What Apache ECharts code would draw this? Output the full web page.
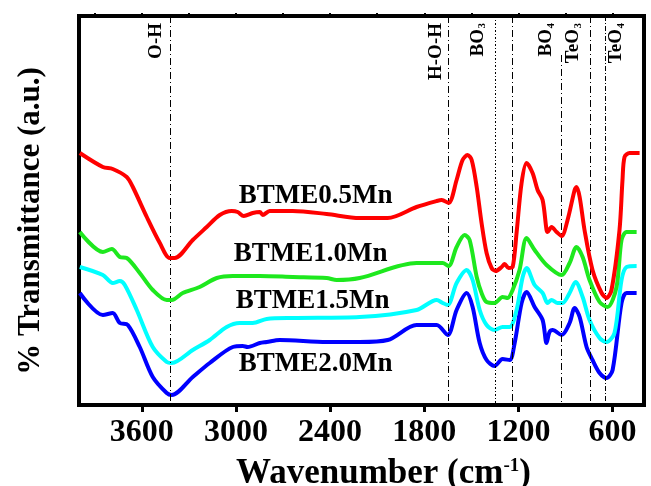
<!DOCTYPE html>
<html>
<head>
<meta charset="utf-8">
<script src="https://cdn.jsdelivr.net/npm/echarts@6/dist/echarts.min.js"></script>
<style>
    html, body { margin: 0; padding: 0; background: #fff; }
    #chart { width: 651px; height: 486px; }
</style>
</head>
<body>
<div id="chart"></div>
<script>
    // FTIR spectra, wavenumber (cm-1) vs transmittance (a.u., offset curves)
    const majorTicks = [3600, 3000, 2400, 1800, 1200, 600];
    const allTicks = [3900, 3600, 3300, 3000, 2700, 2400, 2100, 1800, 1500, 1200, 900, 600];

    const redWn = [3995,3848,3785,3696,3657,3568,3485,3422,3390,3275,3186,3103,3027,2989,2950,2893,2848,2829,2785,2638,2422,2212,2033,1849,1721,1689,1645,1594,1556,1524,1498,1466,1435,1403,1371,1345,1307,1288,1263,1237,1212,1180,1148,1110,1078,1046,1021,1014,989,957,925,887,842,830,810,779,728,670,639,607,556,537,524,492,428];
    const redT = [252,238,236,228,218,188,162,147,147,165,178,190,194,193,189,192,193,190,194,194,191,187,187,198,204,205,202,225,245,250,245,218,182,152,137,134,138,141,137,138,172,222,242,232,215,205,175,173,178,173,169,185,215,218,208,175,135,112,107,115,175,225,248,252,252];

    const greenWn = [3995,3848,3791,3740,3696,3613,3530,3441,3409,3339,3231,3122,3020,2848,2638,2422,2358,2212,1849,1721,1683,1645,1594,1543,1511,1466,1435,1403,1352,1301,1269,1237,1193,1148,1097,1021,925,874,830,791,747,683,632,575,543,511,447];
    const greenT = [173,153,156,148,147,132,115,105,105,112,118,127,129,129,128,127,125,127,142,142,142,139,158,170,165,128,112,103,102,108,107,115,135,167,155,140,130,142,158,148,125,103,98,118,165,173,173];

    const cyanWn = [3995,3848,3785,3740,3708,3632,3530,3441,3409,3275,3167,3059,2976,2893,2804,2638,2212,1849,1721,1683,1651,1594,1530,1492,1447,1403,1352,1301,1256,1212,1173,1148,1097,1046,1014,989,951,919,874,836,791,747,683,639,588,543,511,447];
    const cyanT = [138,130,122,124,120,95,58,43,42,55,65,78,82,82,86,87,88,95,105,102,100,122,135,125,95,80,75,78,78,95,128,137,120,112,102,105,102,102,112,123,108,85,67,63,72,125,138,139];

    const blueWn = [3995,3848,3785,3740,3689,3613,3530,3441,3409,3275,3167,3020,2957,2925,2848,2804,2721,2422,2212,2033,1849,1721,1651,1594,1530,1492,1447,1403,1352,1301,1256,1224,1180,1148,1097,1046,1021,1002,982,925,874,842,810,766,728,683,639,600,543,511,447];
    const blueT = [112,90,92,82,80,58,28,12,10,28,42,58,59,58,62,63,65,63,63,65,80,80,70,95,112,98,62,45,39,46,45,62,102,113,98,85,62,73,75,70,82,97,88,58,45,32,27,35,102,112,112];

    const sampleNames = ['BTME0.5Mn', 'BTME1.0Mn', 'BTME1.5Mn', 'BTME2.0Mn'];
    const sampleLabelWn = [2492, 2524, 2511, 2492];
    const sampleLabelT = [209, 151, 104, 41];

    // band assignment lines
    const bandWn = [3420, 1645, 1350, 1240, 925, 740, 650];
    const bandTop = [389, 389, 389, 389, 350, 389, 389];
    const bandDash = [[7,3,1,3], [7,3,1,3], [2,2,1,2], [7,3,1,3], [7,3,1,3], [7,3,1,3], [5,2,1,2]];
    const bandNames = ['O-H', 'H-O-H', 'BO', 'BO', 'TeO', 'TeO'];
    const bandSubs = ['', '', '3', '4', '3', '4'];
    const bandLabelWn = [3511, 1727, 1460, 1021, 849, 575];

    const font = '"Liberation Serif", "Times New Roman", serif';

    function pairs(xs, ys) {
        return xs.map(function (x, i) { return [x, ys[i]]; });
    }

    function spectrum(name, xs, ys, color, z) {
        return {
            name: name,
            type: 'line',
            data: pairs(xs, ys),
            smooth: 0.3,
            symbol: 'none',
            z: z,
            lineStyle: { width: 4, color: color },
            itemStyle: { color: color }
        };
    }

    const chart = echarts.init(document.getElementById('chart'));

    const option = {
        animation: false,
        backgroundColor: '#fff',
        grid: {
            left: 79, right: 7, top: 16, bottom: 81,
            outerBoundsMode: 'none',
            show: true, borderColor: '#000', borderWidth: 4
        },
        xAxis: [
            {
                type: 'value', position: 'bottom', min: 400, max: 4000, inverse: true,
                axisLine: { show: false },
                splitLine: { show: false },
                axisTick: { customValues: majorTicks, length: 7, lineStyle: { width: 3, color: '#000' } },
                axisLabel: {
                    customValues: majorTicks, margin: 12,
                    formatter: function (v) { return String(v); },
                    fontFamily: font, fontWeight: 'bold', fontSize: 32, color: '#000'
                },
                name: 'Wavenumber (cm{sup|-1})',
                nameLocation: 'middle',
                nameGap: 51,
                nameTextStyle: {
                    fontFamily: font, fontWeight: 'bold', fontSize: 35, color: '#000',
                    padding: [0, 0, 0, 44],
                    rich: { sup: { fontFamily: font, fontWeight: 'bold', fontSize: 19, color: '#000', padding: [0, 0, 15, 0] } }
                }
            },
            {
                type: 'value', position: 'top', min: 400, max: 4000, inverse: true,
                axisLine: { show: false },
                splitLine: { show: false },
                axisTick: { customValues: allTicks, length: 3, lineStyle: { width: 2, color: '#000' } },
                axisLabel: { show: false }
            }
        ],
        yAxis: {
            type: 'value', min: 0, max: 389,
            axisLine: { show: false },
            axisTick: { show: false },
            axisLabel: { show: false },
            splitLine: { show: false },
            name: '% Transmittance (a.u.)',
            nameLocation: 'middle',
            nameGap: 33,
            nameTextStyle: {
                fontFamily: font, fontWeight: 'bold', fontSize: 31, color: '#000',
                padding: [0, 21, 0, 0]
            }
        },
        series: [
            spectrum(sampleNames[0], redWn, redT, '#ff0000', 6),
            spectrum(sampleNames[1], greenWn, greenT, '#1ee81e', 5),
            spectrum(sampleNames[2], cyanWn, cyanT, '#00ffff', 4),
            spectrum(sampleNames[3], blueWn, blueT, '#0000ff', 3),
            {
                name: 'bands',
                type: 'line',
                data: [],
                z: 2,
                markLine: {
                    silent: true,
                    symbol: ['none', 'none'],
                    label: { show: false },
                    data: bandWn.map(function (wn, i) {
                        return [
                            { coord: [wn, bandTop[i]], lineStyle: { color: '#000', width: 1, type: bandDash[i] } },
                            { coord: [wn, 0] }
                        ];
                    })
                }
            }
        ]
    };

    chart.setOption(option);

    const graphics = [];
    sampleNames.forEach(function (n, i) {
        const p = chart.convertToPixel({ xAxisIndex: 0, yAxisIndex: 0 }, [sampleLabelWn[i], sampleLabelT[i]]);
        graphics.push({
            type: 'text', x: p[0], y: p[1], z: 10,
            style: {
                text: n, fill: '#000', align: 'center', verticalAlign: 'middle',
                fontFamily: font, fontWeight: 'bold', fontSize: 27
            }
        });
    });
    // rotated band labels, subscript drawn as its own small text at the top end
    bandNames.forEach(function (n, i) {
        const p = chart.convertToPixel({ xAxisIndex: 0, yAxisIndex: 0 }, [bandLabelWn[i], 382]);
        const subLen = bandSubs[i] ? 6 : 0;
        graphics.push({
            type: 'text', x: p[0], y: p[1] + subLen, rotation: Math.PI / 2, z: 10,
            style: {
                text: n, fill: '#000', align: 'right', verticalAlign: 'middle',
                fontFamily: font, fontWeight: 'bold', fontSize: 19
            }
        });
        if (bandSubs[i]) {
            graphics.push({
                type: 'text', x: p[0] + 5, y: p[1], rotation: Math.PI / 2, z: 10,
                style: {
                    text: bandSubs[i], fill: '#000', align: 'right', verticalAlign: 'middle',
                    fontFamily: font, fontWeight: 'bold', fontSize: 11
                }
            });
        }
    });
    chart.setOption({ graphic: graphics });
</script>
</body>
</html>
